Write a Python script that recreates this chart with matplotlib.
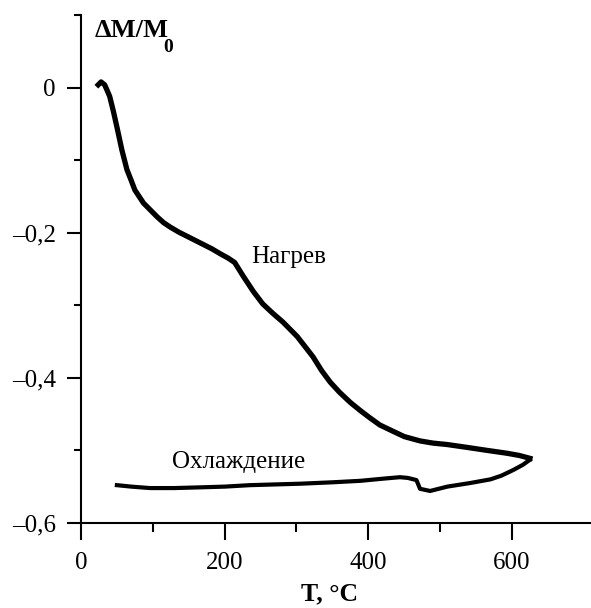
import matplotlib.pyplot as plt
from matplotlib.ticker import FixedLocator

plt.rcParams["font.family"] = ["Liberation Serif", "DejaVu Serif"]

# heating curve (T, dM/M0)
heat_T = [24, 28, 33, 37, 40, 45, 50, 57, 64, 70, 75, 87, 96, 106, 115, 124,
          136, 148, 160, 170, 182, 194, 205, 214, 226, 240, 253, 267, 281, 301,
          312, 323, 335, 347, 360, 375, 390, 402, 416, 435, 450, 472, 490, 510,
          538, 565, 593, 610, 625]
heat_M = [0.004, 0.008, 0.004, -0.005, -0.012, -0.032, -0.054, -0.086, -0.113,
          -0.128, -0.141, -0.159, -0.168, -0.178, -0.186, -0.192, -0.199,
          -0.205, -0.211, -0.216, -0.222, -0.229, -0.235, -0.241, -0.260,
          -0.281, -0.298, -0.311, -0.323, -0.343, -0.357, -0.371, -0.390,
          -0.406, -0.420, -0.434, -0.446, -0.455, -0.465, -0.474, -0.481,
          -0.487, -0.490, -0.492, -0.496, -0.500, -0.504, -0.507, -0.511]

# cooling curve
cool_T = [625, 615, 602, 585, 570, 542, 510, 486, 472, 467, 455, 444, 421, 389,
          351, 305, 270, 235, 200, 166, 130, 96, 70, 50]
cool_M = [-0.513, -0.520, -0.527, -0.535, -0.540, -0.545, -0.550, -0.556,
          -0.553, -0.541, -0.538, -0.537, -0.539, -0.542, -0.544, -0.546,
          -0.547, -0.548, -0.550, -0.551, -0.552, -0.552, -0.550, -0.548]

x_ticks = [0, 200, 400, 600]
x_minor = [100, 300, 500]
y_ticks = [-0.6, -0.4, -0.2, 0]
y_minor = [-0.5, -0.3, -0.1, 0.1]
y_labels = ["–0,6", "–0,4", "–0,2", "0"]

fig = plt.figure(figsize=(5.91, 6.08), dpi=100)
ax = fig.add_axes([0.137, 0.140, 0.863, 0.835])

ax.plot(heat_T, heat_M, color="black", lw=3.8, solid_joinstyle="round")
ax.plot(cool_T, cool_M, color="black", lw=3.0, solid_joinstyle="round")

ax.set_xlim(0, 710)
ax.set_ylim(-0.6, 0.1)
ax.set_xticks(x_ticks)
ax.set_yticks(y_ticks)
ax.set_yticklabels(y_labels)
ax.xaxis.set_minor_locator(FixedLocator(x_minor))
ax.yaxis.set_minor_locator(FixedLocator(y_minor))

for s in ["top", "right"]:
    ax.spines[s].set_visible(False)
for s in ["left", "bottom"]:
    ax.spines[s].set_linewidth(1.5)

ax.tick_params(axis="both", which="both", direction="out", width=1.5,
               labelsize=18)
ax.tick_params(axis="x", which="major", length=12, pad=9)
ax.tick_params(axis="x", which="minor", length=6.5)
ax.tick_params(axis="y", which="major", length=10, pad=8)
ax.tick_params(axis="y", which="minor", length=5)

ax.text(237, -0.241, "Нагрев", fontsize=18)
ax.text(127, -0.524, "Охлаждение", fontsize=18)
ax.text(19.5, 0.0703, "ΔM/M", fontsize=19, fontweight="bold")
ax.text(115, 0.0497, "0", fontsize=14, fontweight="bold")
fig.text(0.5575, 0.012, "T, °C", fontsize=18.5, fontweight="bold", ha="center")

fig.savefig("out.png", dpi=100)
